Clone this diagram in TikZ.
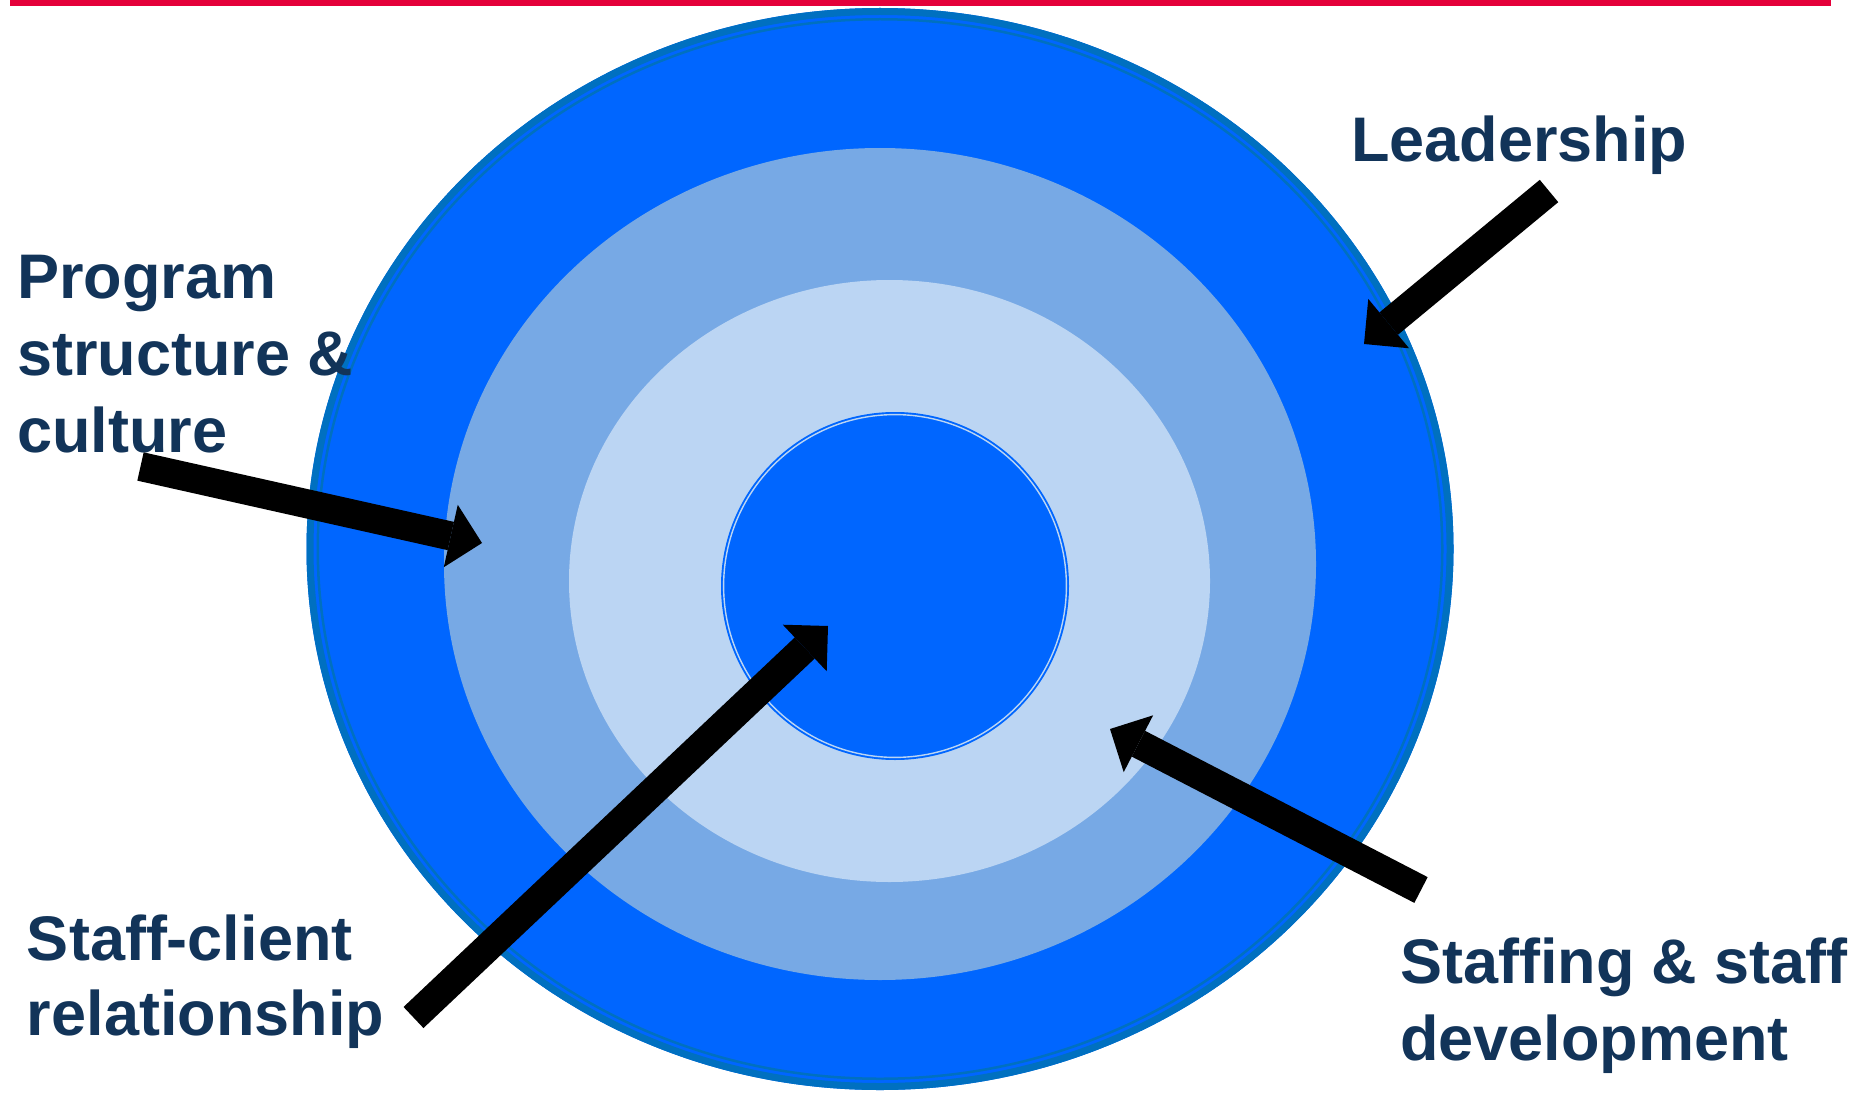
\documentclass[tikz,border=0pt]{standalone}
\usepackage{fontspec}
\setmainfont{Liberation Sans}
\usetikzlibrary{arrows.meta}

\definecolor{topred}{HTML}{E4003A}
\definecolor{ringblue}{HTML}{0066FF}
\definecolor{rimblue}{HTML}{0070C0}
\definecolor{midblue}{HTML}{77A9E5}
\definecolor{paleblue}{HTML}{BBD5F3}
\definecolor{labelnavy}{HTML}{123459}

\tikzset{
  % multi-line labels are placed by the baseline of their last line
  label text/.style={font=\fontsize{63}{77}\selectfont\bfseries, text=labelnavy,
    inner sep=0pt, outer sep=0pt, align=left, anchor=base west},
  block arrow/.style={draw=black, line width=29pt, line cap=butt,
    -{Triangle[length=32pt, width=64pt, line width=0pt]}},
}

\begin{document}
\begin{tikzpicture}[x=1pt, y=-1pt]
  \useasboundingbox (0,0) rectangle (1862,1094);

  % rule across the top
  \fill[topred] (10,0) rectangle (1831,6.5);

  % outer ring with its double rim
  \fill[ringblue] (880,549) ellipse [x radius=573.5, y radius=541];
  \draw[rimblue, line width=7pt] (880,549) ellipse [x radius=570, y radius=537.5];
  \draw[rimblue, line width=2.5pt] (880,549) ellipse [x radius=562.25, y radius=529.75];

  % middle and inner rings
  \fill[midblue] (880,564) ellipse [x radius=436, y radius=416];
  \fill[paleblue] (889.5,581) ellipse [x radius=320.5, y radius=301];

  % core circle with a thin double outline
  \fill[ringblue] (895,586) circle [radius=174];
  \draw[paleblue, line width=1.4pt] (895,586) circle [radius=171.4];

  % labels
  \node[label text] (leadership) at (1351,162) {Leadership};
  \node[label text] (program) at (17,452) {Program\\structure \&\\culture};
  \node[label text, font=\fontsize{63}{75}\selectfont\bfseries] (staffclient) at (27,1035) {Staff-client\\relationship};
  \node[label text] (staffing) at (1400,1060) {Staffing \& staff\\development};

  % arrow end points
  \coordinate (lead-tail) at (1549,191);
  \coordinate (lead-tip) at (1364,344);
  \coordinate (prog-tail) at (140.5,466.5);
  \coordinate (prog-tip) at (482,543);
  \coordinate (sc-tail) at (413.5,1017.5);
  \coordinate (sc-tip) at (828,626);
  \coordinate (stf-tail) at (1421,890);
  \coordinate (stf-tip) at (1110,729);

  % arrows pointing into the rings
  \draw[block arrow] (lead-tail) -- (lead-tip);
  \draw[block arrow] (prog-tail) -- (prog-tip);
  \draw[block arrow] (sc-tail) -- (sc-tip);
  \draw[block arrow] (stf-tail) -- (stf-tip);
\end{tikzpicture}
\end{document}
